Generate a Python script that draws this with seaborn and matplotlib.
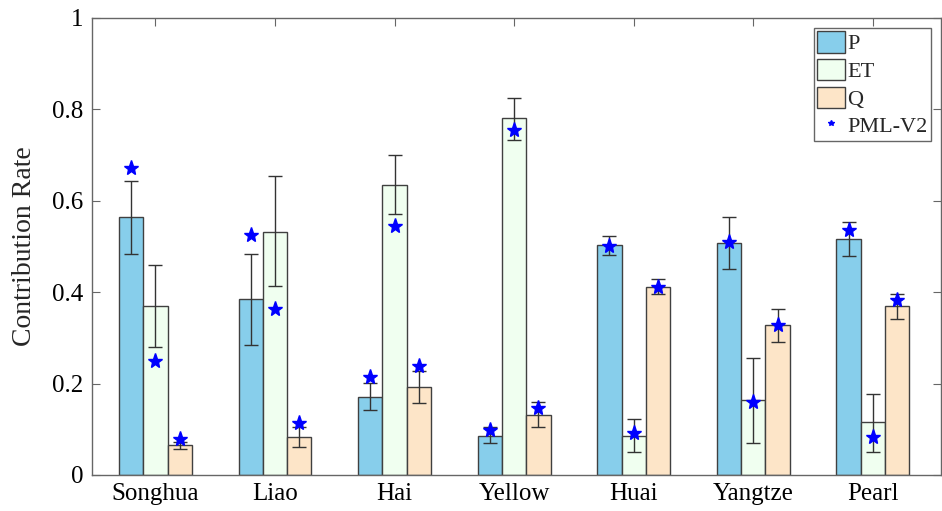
import numpy as np
import pandas as pd
import matplotlib
matplotlib.use("Agg")
import matplotlib.pyplot as plt
import seaborn as sns
from matplotlib.patches import Patch
from matplotlib.lines import Line2D

basins = ["Songhua", "Liao", "Hai", "Yellow", "Huai", "Yangtze", "Pearl"]
components = ["P", "ET", "Q"]

P_mean = [0.565, 0.385, 0.171, 0.086, 0.503, 0.507, 0.516]
ET_mean = [0.370, 0.532, 0.635, 0.780, 0.086, 0.164, 0.115]
Q_mean = [0.066, 0.082, 0.193, 0.131, 0.411, 0.328, 0.369]

P_low = [0.483, 0.285, 0.142, 0.069, 0.482, 0.450, 0.478]
P_high = [0.643, 0.484, 0.202, 0.106, 0.522, 0.565, 0.554]
ET_low = [0.279, 0.414, 0.570, 0.733, 0.050, 0.069, 0.050]
ET_high = [0.459, 0.653, 0.701, 0.825, 0.123, 0.257, 0.178]
Q_low = [0.056, 0.061, 0.158, 0.104, 0.395, 0.290, 0.342]
Q_high = [0.073, 0.104, 0.227, 0.159, 0.428, 0.364, 0.395]

P_pml = [0.671, 0.524, 0.214, 0.098, 0.500, 0.509, 0.535]
ET_pml = [0.250, 0.363, 0.545, 0.755, 0.091, 0.160, 0.082]
Q_pml = [0.078, 0.113, 0.239, 0.147, 0.411, 0.328, 0.383]

yticks = [0, 0.2, 0.4, 0.6, 0.8, 1]
ytick_labels = ["0", "0.2", "0.4", "0.6", "0.8", "1"]

colors = {"P": "#87CEEB", "ET": "#F0FFF0", "Q": "#FDE5C8"}

means = {"P": P_mean, "ET": ET_mean, "Q": Q_mean}
lows = {"P": P_low, "ET": ET_low, "Q": Q_low}
highs = {"P": P_high, "ET": ET_high, "Q": Q_high}
pmls = {"P": P_pml, "ET": ET_pml, "Q": Q_pml}

rows = []
for c in components:
    for b, v in zip(basins, means[c]):
        rows.append({"Basin": b, "Component": c, "Value": v})
df = pd.DataFrame(rows)

sns.set_theme(style="white")
plt.rcParams["font.family"] = ["Liberation Serif", "DejaVu Serif"]

fig = plt.figure(figsize=(9.42, 5.11), dpi=100)
ax = fig.add_axes([0.0977, 0.0705, 0.9013, 0.8945])

sns.barplot(data=df, x="Basin", y="Value", hue="Component",
            order=basins, hue_order=components, palette=colors,
            saturation=1, width=0.61, edgecolor="#404040", linewidth=1.0,
            errorbar=None, legend=False, ax=ax)

for c, cont in zip(components, ax.containers):
    xs = np.array([p.get_x() + p.get_width() / 2 for p in cont.patches])
    m = np.array(means[c])
    lo = m - np.array(lows[c])
    hi = np.array(highs[c]) - m
    ax.errorbar(xs, m, yerr=[lo, hi], fmt="none", ecolor="#333333",
                elinewidth=1.0, capsize=5, capthick=1.0, zorder=3)
    ax.plot(xs, pmls[c], linestyle="none", marker="*", markersize=11,
            color="#0000FF", markeredgecolor="#0000FF", zorder=4)

ax.set_xlim(-0.53, 6.57)
ax.set_ylim(0, 1)
ax.set_yticks(yticks)
ax.set_yticklabels(ytick_labels)
ax.set_xlabel("")
ax.set_ylabel("Contribution Rate", fontsize=20, labelpad=11)

for s in ax.spines.values():
    s.set_visible(True)
    s.set_color("#666666")
    s.set_linewidth(1.0)

ax.tick_params(axis="both", direction="in", length=5.5, width=0.8,
               colors="#666666", labelcolor="black", labelsize=18,
               top=True, right=True, bottom=False, left=True)
ax.tick_params(axis="x", pad=6)
ax.tick_params(axis="y", pad=6)

handles = [Patch(facecolor=colors[c], edgecolor="#404040", linewidth=1.0, label=c)
           for c in components]
handles.append(Line2D([], [], linestyle="none", marker="*", markersize=4,
                      color="#0000FF", label="PML-V2"))
leg = ax.legend(handles=handles, loc="upper right", fontsize=16,
                frameon=True, fancybox=False, framealpha=1,
                edgecolor="#666666", borderaxespad=0.45,
                handlelength=1.25, handleheight=1.1, handletextpad=0.1,
                labelspacing=0.2, borderpad=0.15)
leg.get_frame().set_linewidth(1.0)

fig.savefig("out.png", dpi=100)
